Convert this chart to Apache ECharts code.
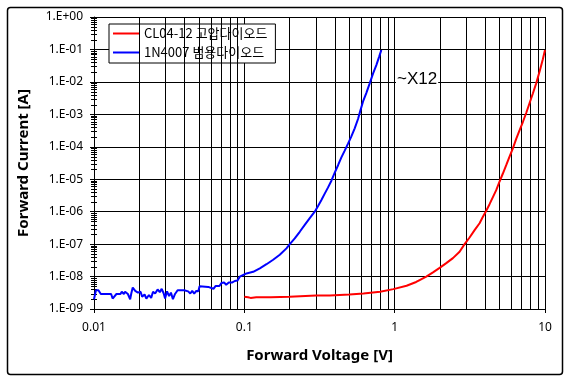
<!DOCTYPE html>
<html><head><meta charset="utf-8">
<script src="https://cdn.jsdelivr.net/npm/echarts@6/dist/echarts.min.js"></script>
<style>html,body{margin:0;padding:0;background:#fff}#c{width:567px;height:379px}</style>
</head><body><div id="c"></div>
<script>
const redName = 'CL04-12 고압다이오드';
const blueName = '1N4007 범용다이오드';
const blueV = [0.0100,0.0103,0.0107,0.0111,0.0130,0.0133,0.0137,0.0141,0.0150,0.0153,0.0158,0.0161,0.0168,0.0174,0.0177,0.0181,0.0188,0.0196,0.0204,0.0209,0.0217,0.0223,0.0232,0.0240,0.0247,0.0255,0.0265,0.0274,0.0282,0.0291,0.0297,0.0306,0.0316,0.0325,0.0335,0.0346,0.0360,0.0398,0.0423,0.0437,0.0450,0.0464,0.0479,0.0494,0.0504,0.0575,0.0587,0.0623,0.0643,0.0683,0.0704,0.0733,0.0757,0.0788,0.0833,0.0864,0.0899,
  0.0933,0.1034,0.1145,0.1268,0.1404,0.1555,0.1721,0.1906,0.2006,0.2165,0.2337,0.2523,0.2724,0.2940,0.3094,0.3256,0.3426,0.3606,0.3795,0.3994,0.4202,0.4422,0.4653,0.4896,0.5152,0.5422,0.5705,0.5912,0.6162,0.6484,0.6822,0.7178,0.7554,0.7870,0.8153];
const blueI = [2.0e-9,3.8e-9,3.8e-9,2.9e-9,2.9e-9,2.1e-9,2.0e-9,2.9e-9,2.9e-9,3.4e-9,2.9e-9,3.4e-9,2.9e-9,2.0e-9,3.0e-9,4.6e-9,3.6e-9,3.2e-9,3.4e-9,2.4e-9,2.8e-9,2.1e-9,2.7e-9,2.2e-9,3.4e-9,3.0e-9,4.0e-9,3.3e-9,4.2e-9,3.0e-9,2.1e-9,3.5e-9,2.5e-9,3.2e-9,2.0e-9,2.9e-9,3.8e-9,3.8e-9,3.5e-9,3.0e-9,3.6e-9,3.0e-9,3.6e-9,3.5e-9,5.0e-9,4.8e-9,4.2e-9,4.2e-9,5.1e-9,5.1e-9,6.3e-9,6.6e-9,5.6e-9,6.6e-9,6.6e-9,7.3e-9,7.5e-9,
  9.9e-9,1.25e-8,1.4e-8,1.8e-8,2.4e-8,3.3e-8,4.7e-8,7.4e-8,1.0e-7,1.5e-7,2.4e-7,3.9e-7,6.3e-7,1.0e-6,1.5e-6,2.3e-6,3.6e-6,5.6e-6,9.0e-6,1.6e-5,2.7e-5,4.7e-5,7.6e-5,1.25e-4,2.1e-4,3.7e-4,7.2e-4,1.3e-3,2.5e-3,4.6e-3,9.0e-3,1.8e-2,3.3e-2,5.8e-2,9.6e-2];
const redV = [0.100,0.103,0.106,0.11,0.12,0.15,0.2,0.3,0.37,0.5,0.62,0.8,0.98,1.2,1.39,1.466,1.623,1.798,1.991,2.204,2.441,2.703,2.918,3.150,3.401,3.671,3.863,4.065,4.278,4.502,4.737,4.985,5.246,5.521,5.809,6.113,6.434,6.770,7.124,7.497,7.889,8.302,8.736,9.193,9.674,10.0];
const redI = [2.4e-9,2.1e-9,2.3e-9,2.2e-9,2.3e-9,2.3e-9,2.4e-9,2.6e-9,2.6e-9,2.8e-9,3.0e-9,3.4e-9,4.1e-9,5.2e-9,6.8e-9,7.8e-9,1.0e-8,1.35e-8,1.85e-8,2.6e-8,3.7e-8,5.8e-8,1.0e-7,1.6e-7,2.7e-7,4.4e-7,7.0e-7,1.07e-6,1.7e-6,2.8e-6,4.6e-6,8.5e-6,1.5e-5,2.7e-5,5.0e-5,8.9e-5,1.75e-4,3.2e-4,5.8e-4,1.1e-3,2.2e-3,4.4e-3,9.0e-3,2.06e-2,5.0e-2,9.6e-2];
const xTitle = 'Forward Voltage [V]';
const yTitle = 'Forward Current [A]';
const note = '~X12';

// minor grid / tick positions (2..9 per decade)
const xMinor = [];
for (let e = -2; e < 1; e++) for (let m = 2; m <= 9; m++) xMinor.push(+(m * Math.pow(10, e)).toPrecision(3));
const yMinor = [];
for (let e = -9; e < 0; e++) for (let m = 2; m <= 9; m++) yMinor.push(+(m * Math.pow(10, e)).toPrecision(3));

const chart = echarts.init(document.getElementById('c'), null, {renderer: 'canvas'});
const font = '"Noto Sans", "Noto Sans CJK KR", sans-serif';
function yFmt(v) {
  const e = Math.round(Math.log10(v));
  const a = Math.abs(e);
  return '1.E' + (e < 0 ? '-' : '+') + (a < 10 ? '0' : '') + a;
}
chart.setOption({
  animation: false,
  backgroundColor: '#fff',
  textStyle: {fontFamily: font},
  grid: {left: 94, right: 22, top: 17, bottom: 70},
  legend: {
    data: [redName, blueName], orient: 'vertical', left: 109, top: 24,
    itemWidth: 26, itemHeight: 14, itemGap: 6, padding: [3, 8, 4, 3],
    backgroundColor: '#fff', borderColor: '#000', borderWidth: 1,
    itemStyle: {opacity: 0},
    lineStyle: {width: 2},
    textStyle: {fontFamily: '"Noto Sans CJK KR", sans-serif', fontSize: 13, color: '#000'}
  },
  xAxis: {
    type: 'log', logBase: 10, min: 0.01, max: 10, interval: 1,
    name: xTitle, nameLocation: 'middle', nameGap: 39,
    nameTextStyle: {fontFamily: font, fontWeight: 'bold', fontSize: 15, color: '#000'},
    axisLine: {show: true, lineStyle: {color: '#000', width: 1}},
    axisTick: {show: true, length: 4, lineStyle: {color: '#000'}},
    axisLabel: {margin: 13, fontSize: 12, color: '#000', fontFamily: font,
      formatter: v => String(+(+v).toPrecision(3))},
    splitLine: {show: true, lineStyle: {color: '#000', width: 1}}
  },
  yAxis: {
    type: 'log', logBase: 10, min: 1e-9, max: 1, interval: 1,
    name: yTitle, nameLocation: 'middle', nameGap: 63, nameRotate: 90,
    nameTextStyle: {fontFamily: font, fontWeight: 'bold', fontSize: 15, color: '#000'},
    axisLine: {show: true, lineStyle: {color: '#000', width: 1}},
    axisTick: {show: true, length: 4, lineStyle: {color: '#000'}},
    axisLabel: {margin: 11, fontSize: 12, color: '#000', fontFamily: font, formatter: yFmt},
    splitLine: {show: true, lineStyle: {color: '#000', width: 1}}
  },
  series: [
    {
      type: 'line', name: 'grid', data: [], silent: true, z: 1,
      markLine: {
        silent: true, symbol: 'none', animation: false,
        label: {show: false},
        lineStyle: {color: '#000', width: 1, type: 'solid'},
        emphasis: {disabled: true},
        data: xMinor.map(v => ({xAxis: v}))
      }
    },
    {
      type: 'custom', name: 'yticks', silent: true, z: 2,
      data: yMinor.map(v => [0.01, v]),
      renderItem: function (params, api) {
        const p = api.coord([api.value(0), api.value(1)]);
        const y = Math.round(p[1]) + 0.5;
        return {type: 'line', shape: {x1: p[0] - 3, y1: y, x2: p[0] + 3, y2: y},
          style: {stroke: '#000', lineWidth: 1}};
      }
    },
    {
      type: 'line', name: redName, z: 5, symbol: 'none',
      data: redV.map((v, i) => [v, redI[i]]),
      lineStyle: {color: '#ff0000', width: 2}, itemStyle: {color: '#ff0000'}
    },
    {
      type: 'line', name: blueName, z: 5, symbol: 'none',
      data: blueV.map((v, i) => [v, blueI[i]]),
      lineStyle: {color: '#0000ff', width: 2}, itemStyle: {color: '#0000ff'}
    }
  ],
  graphic: [
    {type: 'rect', left: 5, top: 5, shape: {width: 555, height: 367, r: 3},
      style: {fill: 'none', stroke: '#000', lineWidth: 1.5}, z: 100, silent: true},
    {type: 'text', left: 396, top: 71, z: 50,
      style: {text: note, font: '17px "Liberation Sans", Arial, sans-serif', fill: '#000',
        backgroundColor: '#fff', padding: [0, 1, 0, 1]}}
  ]
});
</script></body></html>
